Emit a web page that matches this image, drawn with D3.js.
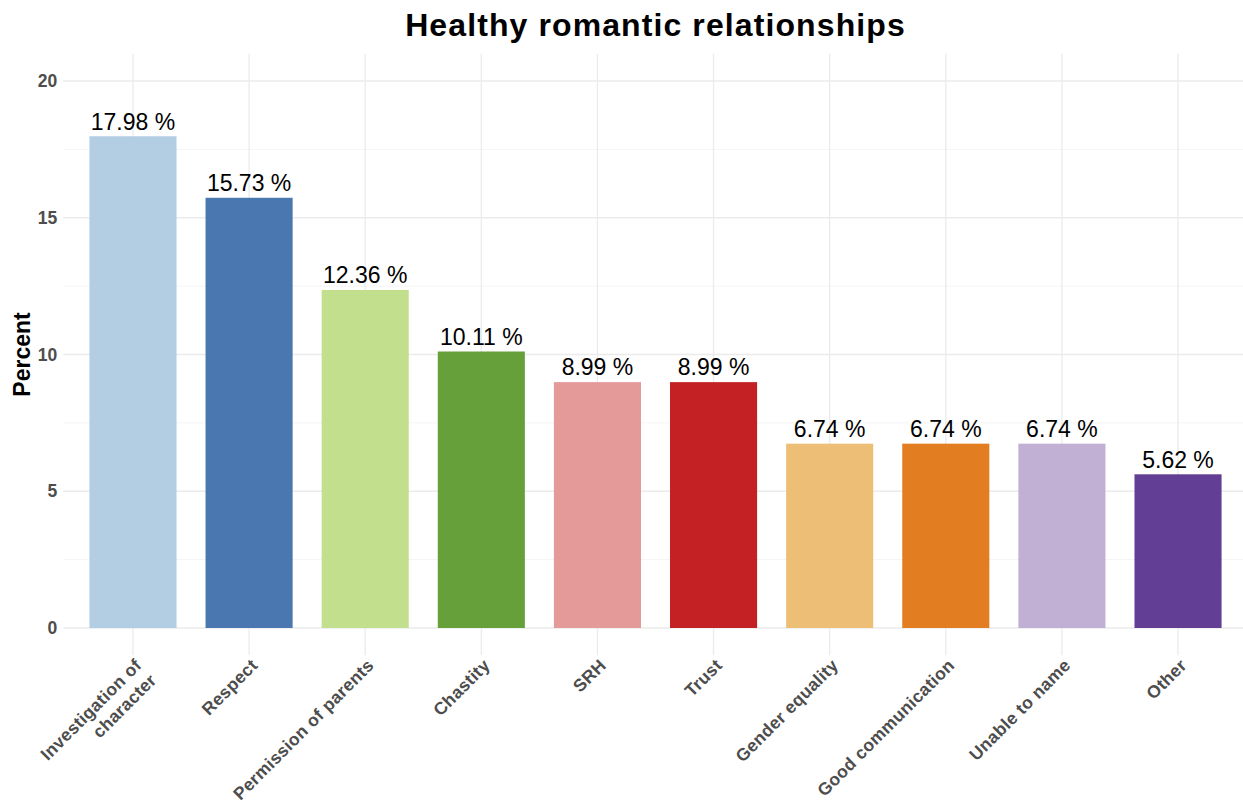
<!DOCTYPE html>
<html>
<head>
<meta charset="utf-8">
<script src="https://cdn.jsdelivr.net/npm/d3@7"></script>
<style>
  html, body { margin: 0; padding: 0; background: #ffffff; }
  svg { display: block; font-family: "Liberation Sans", Arial, Helvetica, sans-serif; }
</style>
</head>
<body>
<svg id="chart" width="1243" height="806"></svg>
<script>
// ---- data ----
const categories = ["Investigation of\ncharacter", "Respect", "Permission of parents", "Chastity", "SRH",
  "Trust", "Gender equality", "Good communication", "Unable to name", "Other"];
const percents = [17.98, 15.73, 12.36, 10.11, 8.99, 8.99, 6.74, 6.74, 6.74, 5.62];
const barColors = ["#B3CDE3", "#4A77B0", "#C1DF8C", "#66A03B", "#E39A99",
  "#C32124", "#EDBE75", "#E27E21", "#C1AFD4", "#623F94"];
const yTicks = [0, 5, 10, 15, 20];
const yMinorTicks = [2.5, 7.5, 12.5, 17.5];
const titleText = "Healthy romantic relationships";
const yLabel = "Percent";

// ---- layout ----
const W = 1243, H = 806;
const panel = { left: 63.3, right: 1247.7, top: 53.65, bottom: 655.35 };

const svg = d3.select("#chart");

const x = d3.scalePoint()
  .domain(categories)
  .range([panel.left, panel.right])
  .padding(0.6);
const barW = x.step() * 0.75;

const y = d3.scaleLinear()
  .domain([-1, 21])
  .range([panel.bottom, panel.top]);

// grid
const grid = svg.append("g");
grid.selectAll("line.minor").data(yMinorTicks).enter().append("line")
  .attr("x1", panel.left).attr("x2", W)
  .attr("y1", d => y(d)).attr("y2", d => y(d))
  .attr("stroke", "#f3f3f3").attr("stroke-width", 0.9);
grid.selectAll("line.major").data(yTicks).enter().append("line")
  .attr("x1", panel.left).attr("x2", W)
  .attr("y1", d => y(d)).attr("y2", d => y(d))
  .attr("stroke", "#ebebeb").attr("stroke-width", 1.3);
grid.selectAll("line.vert").data(categories).enter().append("line")
  .attr("x1", d => x(d)).attr("x2", d => x(d))
  .attr("y1", panel.top).attr("y2", panel.bottom)
  .attr("stroke", "#ebebeb").attr("stroke-width", 1.3);

// bars
svg.append("g").selectAll("rect").data(categories).enter().append("rect")
  .attr("x", d => x(d) - barW / 2)
  .attr("width", barW)
  .attr("y", (d, i) => y(percents[i]))
  .attr("height", (d, i) => y(0) - y(percents[i]))
  .attr("fill", (d, i) => barColors[i]);

// value labels
svg.append("g").selectAll("text").data(categories).enter().append("text")
  .attr("x", d => x(d))
  .attr("y", (d, i) => y(percents[i]) - 6.7)
  .attr("text-anchor", "middle")
  .attr("font-size", 23)
  .attr("fill", "#000")
  .text((d, i) => percents[i].toFixed(2) + " %");

// y axis
const yAxis = d3.axisLeft(y).tickValues(yTicks).tickSize(0).tickPadding(0).tickFormat(d3.format("d"));
const gy = svg.append("g").attr("transform", `translate(${panel.left - 6},0)`).call(yAxis);
gy.select(".domain").remove();
gy.selectAll("text")
  .attr("font-family", "'Liberation Sans', Arial, sans-serif")
  .attr("font-size", 17.5).attr("font-weight", "bold").attr("fill", "#4d4d4d");

// x axis
const xAxis = d3.axisBottom(x).tickSize(0).tickPadding(0);
const gx = svg.append("g").attr("transform", `translate(0,${panel.bottom + 2})`).call(xAxis);
gx.select(".domain").remove();
gx.selectAll(".tick text").each(function(d) {
  const t = d3.select(this);
  t.text(null)
    .attr("x", 0).attr("y", 0).attr("dy", null)
    .attr("transform", "rotate(-45)")
    .attr("text-anchor", "end")
    .attr("font-family", "'Liberation Sans', Arial, sans-serif")
    .attr("font-size", 17.5).attr("font-weight", "bold").attr("fill", "#4d4d4d")
    .attr("letter-spacing", "0.3px");
  const lines = d.split("\n");
  lines.forEach((ln, i) => {
    t.append("tspan").attr("x", 0).attr("dy", i === 0 ? "0.74em" : "1.2em").text(ln);
  });
});

// y label
svg.append("text")
  .attr("transform", `translate(30,${(panel.top + panel.bottom) / 2}) rotate(-90)`)
  .attr("text-anchor", "middle")
  .attr("font-size", 23).attr("font-weight", "bold").attr("fill", "#000")
  .text(yLabel);

// title
svg.append("text")
  .attr("x", (panel.left + panel.right) / 2)
  .attr("y", 36)
  .attr("text-anchor", "middle")
  .attr("font-size", 32).attr("font-weight", "bold").attr("fill", "#000")
  .attr("letter-spacing", "1.1px")
  .text(titleText);
</script>
</body>
</html>
